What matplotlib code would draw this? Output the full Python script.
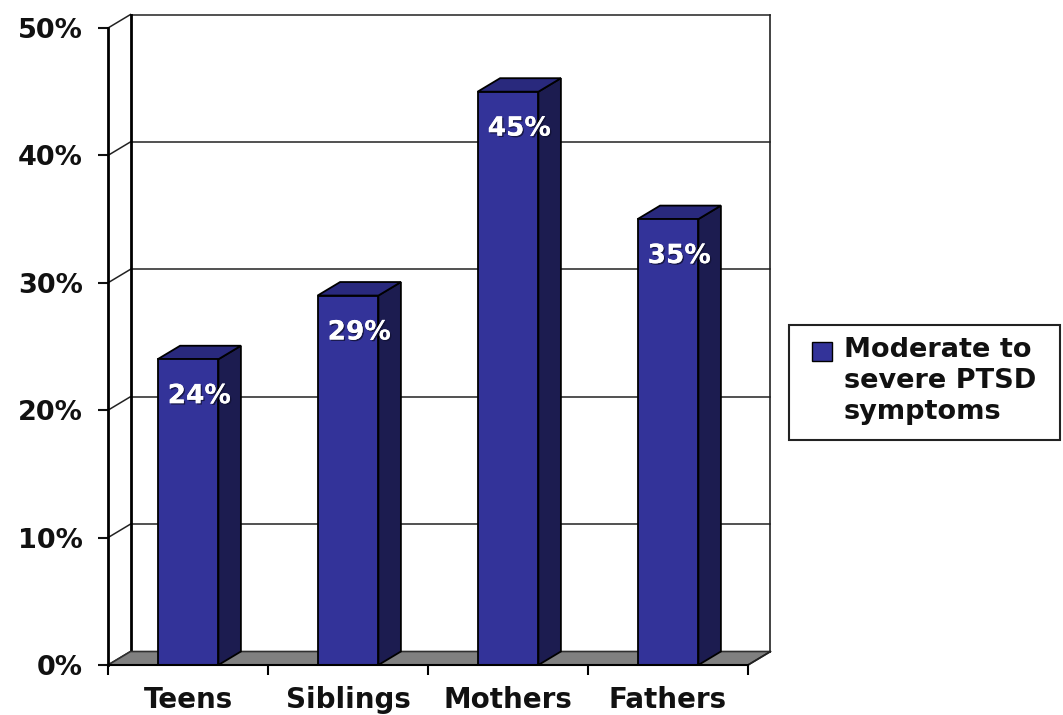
import matplotlib
matplotlib.use("Agg")
import matplotlib.pyplot as plt
from matplotlib.patches import Polygon, Rectangle
import matplotlib.patheffects as pe

categories = ["Teens", "Siblings", "Mothers", "Fathers"]
values = [24, 29, 45, 35]
bar_labels = ["24%", "29%", "45%", "35%"]
yticks = [0, 10, 20, 30, 40, 50]
ytick_labels = ["0%", "10%", "20%", "30%", "40%", "50%"]
legend_label = "Moderate to\nsevere PTSD\nsymptoms"

W, H = 1063, 715
plt.rcParams['font.family'] = ['DejaVu Sans']
fig = plt.figure(figsize=(W / 100, H / 100), dpi=100)
fig.patch.set_facecolor("white")

def fx(x):
    return x / W

def fy(y):
    return 1 - y / H

left_px, right_px, top_px, bot_px = 108, 748, 28, 665
ax = fig.add_axes([fx(left_px), fy(bot_px), fx(right_px - left_px), (bot_px - top_px) / H])
ax.set_xlim(-0.5, 3.5)
ax.set_ylim(0, 50)
ax.set_facecolor("none")

# 3D depth offsets (data units)
dx = 22.5 / 160.0
dy = 13.5 / (bot_px - top_px) * 50

FRONT = "#333399"
TOP = "#29297d"
SIDE = "#1c1c50"
EDGE = "black"
x0, x1 = -0.5, 3.5

# Floor
ax.add_patch(Polygon([(x0, 0), (x1, 0), (x1 + dx, dy), (x0 + dx, dy)],
                     closed=True, facecolor="#808080", edgecolor="#303030",
                     linewidth=1.2, zorder=1, clip_on=False))

# Back wall gridlines & side-wall diagonals
for v in yticks:
    ax.plot([x0 + dx, x1 + dx], [v + dy, v + dy], color="#222222", lw=1.1,
            zorder=0.5, clip_on=False)
    ax.plot([x0, x0 + dx], [v, v + dy], color="#222222", lw=1.1,
            zorder=0.5, clip_on=False)
# Back wall vertical edges
ax.plot([x0 + dx, x0 + dx], [dy, 50 + dy], color="black", lw=2.0, zorder=0.6, clip_on=False)
ax.plot([x1 + dx, x1 + dx], [dy, 50 + dy], color="#222222", lw=1.2, zorder=0.6, clip_on=False)
ax.plot([x1, x1 + dx], [0, dy], color="#222222", lw=1.2, zorder=1.1, clip_on=False)

# Bars
xs = list(range(len(categories)))
bw = 0.38
ax.bar(xs, values, width=bw, color=FRONT, edgecolor=EDGE, linewidth=1.3, zorder=3)
for x, v, lab in zip(xs, values, bar_labels):
    xl, xr = x - bw / 2, x + bw / 2
    ax.add_patch(Polygon([(xr, 0), (xr + dx, dy), (xr + dx, v + dy), (xr, v)],
                         closed=True, facecolor=SIDE, edgecolor=EDGE, linewidth=1.3,
                         zorder=2.9, clip_on=False))
    ax.add_patch(Polygon([(xl, v), (xr, v), (xr + dx, v + dy), (xl + dx, v + dy)],
                         closed=True, facecolor=TOP, edgecolor=EDGE, linewidth=1.3,
                         zorder=2.9, clip_on=False))
    t = ax.text(x + dx / 2, v - 2.9, lab, ha="center", va="center", color="white",
                fontsize=19, fontweight="bold", zorder=4)
    t.set_path_effects([pe.withSimplePatchShadow(offset=(1, -1), shadow_rgbFace="#111133", alpha=0.8),
                        pe.Normal()])

# Axes styling
for s in ["top", "right"]:
    ax.spines[s].set_visible(False)
ax.spines["left"].set_linewidth(2.0)
ax.spines["bottom"].set_linewidth(1.5)
ax.spines["left"].set_zorder(5)
ax.spines["bottom"].set_zorder(5)

ax.set_yticks(yticks)
ax.set_yticklabels(ytick_labels)
ax.tick_params(axis="y", length=7, width=1.5, pad=11, labelsize=19.5, colors="#111111")
for t in ax.get_yticklabels():
    t.set_fontweight("bold")

ax.set_xticks([-0.5, 0.5, 1.5, 2.5, 3.5])
ax.set_xticklabels([])
ax.tick_params(axis="x", which="major", length=7, width=1.5)
ax.set_xticks(xs, minor=True)
ax.set_xticklabels(categories, minor=True)
ax.tick_params(axis="x", which="minor", length=0, pad=15, labelsize=20, colors="#111111")
for t in ax.get_xticklabels(minor=True):
    t.set_fontweight("bold")

# Legend box (manual)
lx0, ly0, lx1, ly1 = 789, 325, 1060, 440
fig.patches.append(Rectangle((fx(lx0), fy(ly1)), fx(lx1 - lx0), (ly1 - ly0) / H,
                             transform=fig.transFigure, facecolor="white",
                             edgecolor="#222222", linewidth=1.5))
fig.patches.append(Rectangle((fx(812), fy(361)), fx(20), 19 / H,
                             transform=fig.transFigure, facecolor=FRONT,
                             edgecolor="black", linewidth=1.0))
fig.text(fx(844), fy(381), legend_label, ha="left", va="center", fontsize=19.5,
         fontweight="bold", color="#111111", linespacing=1.25)

fig.savefig("out.png", dpi=100, facecolor="white")
